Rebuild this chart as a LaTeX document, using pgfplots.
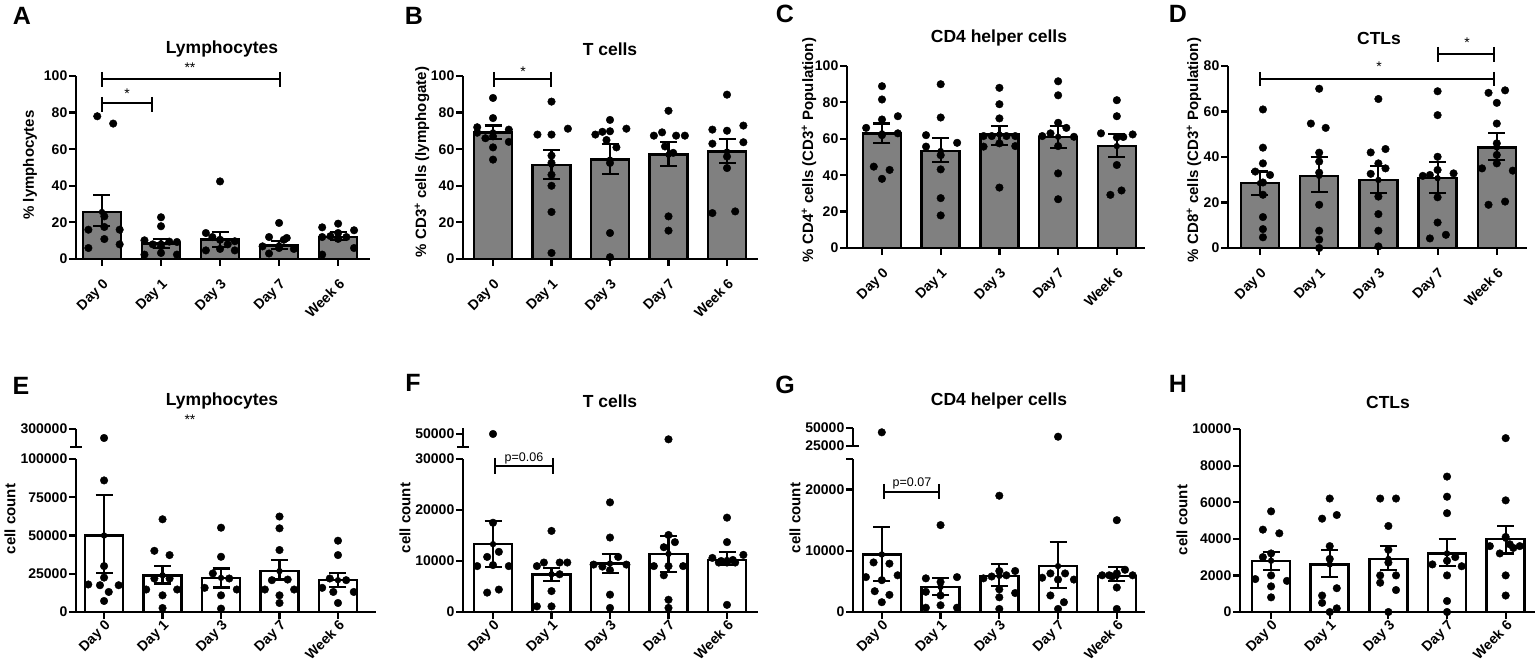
\documentclass[border=0pt]{standalone}
\usepackage{fontspec}
\setmainfont{Liberation Sans}
\usepackage{pgfplots}
\pgfplotsset{compat=1.18}
\newcommand\fs[1]{\fontsize{#1}{#1}\selectfont}
\definecolor{bargray}{RGB}{128,128,128}
\pgfplotsset{
 gp/.style={
  scale only axis, clip=false,
  axis x line*=bottom, axis y line*=left,
  axis line style={line width=2.2pt, -},
  tick style={line width=2.2pt, black},
  major tick length=7pt, tick align=outside,
  scaled y ticks=false,
  xtick={0,1,2,3,4},
  xticklabels={Day 0,Day 1,Day 3,Day 7,Week 6},
  xticklabel style={rotate=45, anchor=north east, font=\fs{14}\bfseries, inner sep=1pt},
  xticklabel shift=10pt,
  yticklabel style={font=\fs{14}\bfseries, inner sep=1.5pt},
  anchor=south west,
 },
 row2/.style={xticklabel shift=0pt, xticklabel style={inner sep=0pt}},
 upper/.style={
  scale only axis, clip=false,
  axis x line=none, axis y line*=left,
  axis line style={line width=2.2pt, -},
  tick style={line width=2.2pt, black},
  major tick length=7pt, tick align=outside,
  scaled y ticks=false,
  xtick=\empty,
  yticklabel style={font=\fs{14}\bfseries, inner sep=1.5pt},
  anchor=south west,
 },
 bars/.style={ybar, bar width=38pt, draw=black, line width=2.5pt, fill=#1},
 dots/.style={only marks, mark=*, mark size=3.8pt, black, mark options={fill=black}},
 errs/.style={black, line width=2.2pt, only marks, mark=none,
   error bars/.cd, y dir=both, y explicit, error mark=|,
   error bar style={line width=2.2pt, black},
   error mark options={line width=2.2pt, black, mark size=8.5pt}},
}
\begin{document}
\begin{tikzpicture}
\useasboundingbox (0pt,0pt) rectangle (1535pt,662pt);

% ---------------- A ----------------
\begin{axis}[gp, at={(76pt,403pt)}, width=294pt, height=183pt,
  xmin=-0.44, xmax=4.54, ymin=0, ymax=100,
  ytick={0,20,40,60,80,100}, yticklabels={0,20,40,60,80,100}]
\addplot[bars=bargray] coordinates {(0,25.7) (1,8.6) (2,10.7) (3,7.5) (4,12)};
\addplot[dots] coordinates {(-0.08,78) (0.19,74) (0.04,23.3) (-0.23,16) (0.3,16) (0.04,17.5) (0.04,10.9) (-0.23,6) (0.3,8)
 (1,22.8) (1,17.9) (0.72,10.2) (1.14,9.5) (1.27,9.3) (0.86,8) (0.72,2.4) (1,3.3) (1.27,2.4) (1,7)
 (2,42.4) (1.76,14.2) (2,10.5) (2.25,9.7) (1.76,4.7) (2.25,4.7) (2,5.5) (1.87,12) (2.13,8)
 (3,19.7) (2.83,12) (3.08,10.5) (2.72,6.9) (3,6) (3.25,5.5) (2.83,3) (3.13,11.5)
 (3.73,17.3) (4,19.3) (4.27,15.7) (4,14.2) (3.73,12) (4.14,12) (4.27,6) (3.73,2.4) (3.87,12.5) (4,11)};
\addplot[errs] table[x=x, y=y, y error plus=ep, y error minus=em] {
x y ep em
0 25.7 9.1 7.8
1 8.6 2.5 2.6
2 10.7 4.1 4.1
3 7.5 2.2 2.0
4 12 2.6 1.8
};
\end{axis}

% ---------------- B ----------------
\begin{axis}[gp, at={(463pt,403pt)}, width=295pt, height=183pt,
  xmin=-0.513, xmax=4.53, ymin=0, ymax=100,
  ytick={0,20,40,60,80,100}, yticklabels={0,20,40,60,80,100}]
\addplot[bars=bargray] coordinates {(0,69.2) (1,51.5) (2,54.3) (3,57) (4,58.7)};
\addplot[dots] coordinates {(0,88) (0,77) (-0.27,72) (0.27,70.7) (0,67) (-0.27,69) (0.27,64) (0,61) (0,54.3) (-0.13,66)
 (1,86) (0.76,68) (1,68) (1.28,71.2) (1,56.5) (1,52.5) (1,46) (1,40) (1,25.7) (1,3.3)
 (2,76) (1.75,68) (2,69.8) (2.28,71.2) (1.94,65) (2.11,61) (2,52.5) (2,14.2) (2,1) (1.87,69.5)
 (3,81) (2.75,67.4) (2.89,69.2) (3.13,67.4) (3.28,67.4) (2.94,61.5) (3.08,58) (3,23.3) (3,15.5)
 (4,89.8) (3.75,70.7) (4,70.1) (4.28,72.9) (3.75,63) (4.28,63.8) (4,56) (4,49.7) (3.75,25.1) (4.14,26)};
\addplot[errs] table[x=x, y=y, y error plus=ep, y error minus=em] {
x y ep em
0 69.2 3.8 3.6
1 51.5 7.9 7.6
2 54.3 8.7 7.7
3 57 6.9 6
4 58.7 6.9 6.2
};
\end{axis}

% ---------------- C ----------------
\begin{axis}[gp, at={(847pt,414pt)}, width=298pt, height=182pt,
  xmin=-0.596, xmax=4.48, ymin=0, ymax=100,
  ytick={0,20,40,60,80,100}, yticklabels={0,20,40,60,80,100}]
\addplot[bars=bargray] coordinates {(0,63) (1,53.3) (2,62.4) (3,61.1) (4,56)};
\addplot[dots] coordinates {(0,88.9) (0,81.6) (0,70.6) (-0.27,66) (0.27,72.4) (0,62) (0.27,63) (-0.14,44.7) (0.13,42.9) (0,38)
 (1,90) (1,71.7) (0.75,62) (0.75,55.7) (1.28,57.8) (1,51) (1,43.2) (1,27.4) (1,17.9)
 (2,88) (2,79) (2,71.2) (1.73,61.5) (1.87,61.5) (2.12,61.5) (2.27,61.5) (2,57.5) (1.73,55.7) (2.27,56) (2,33.2)
 (3,91.6) (3,83.9) (3,68.8) (2.87,63) (3.14,66) (3.27,61.1) (2.73,61.5) (3,56) (3,41) (3,26.8)
 (4,81.2) (4,72.4) (3.73,63) (4.27,62.4) (4,60.8) (4.11,61) (4,45.6) (4.08,31.6) (3.89,29.2)};
\addplot[errs] table[x=x, y=y, y error plus=ep, y error minus=em] {
x y ep em
0 63 5.4 5.2
1 53.3 7.3 6.2
2 62.4 4.8 5.8
3 61.1 5.9 6
4 56 6.6 5.8
};
\end{axis}

% ---------------- D ----------------
\begin{axis}[gp, at={(1228pt,414pt)}, width=299pt, height=182pt,
  xmin=-0.54, xmax=4.51, ymin=0, ymax=80,
  ytick={0,20,40,60,80}, yticklabels={0,20,40,60,80}]
\addplot[bars=bargray] coordinates {(0,28.5) (1,31.7) (2,29.9) (3,30.7) (4,44.2)};
\addplot[dots] coordinates {(0.05,60.9) (0.05,44.1) (0.05,37.2) (-0.08,33.6) (0.17,32.1) (0.05,28.8) (0.05,23.4) (0.05,13.6) (0.05,8.3) (0.05,4.7)
 (1,70) (0.86,54.7) (1.11,52.8) (1,41.9) (1,38) (1,33.1) (1,19) (1,7.6) (1,3.7) (1,0)
 (2,65.5) (1.87,42) (2.12,43.5) (2,37.2) (1.87,32.6) (2.12,35) (2,22.6) (2,14.9) (2,7.6) (2,0.7)
 (3,68.9) (3,58.4) (3,40.1) (3,34.3) (2.87,32.1) (2.75,31.7) (3.27,32.8) (3,22.3) (3,11.2) (3.14,5.8) (2.87,4.2)
 (3.86,68.2) (4.14,69.3) (4,63.8) (4,54.7) (4,46) (3.75,35) (4.27,34) (4,40.9) (4,37.2) (3.86,19) (4.14,20.4)};
\addplot[errs] table[x=x, y=y, y error plus=ep, y error minus=em] {
x y ep em
0 28.5 5.1 5.1
1 31.7 8.2 7.2
2 29.9 6.3 5.8
3 30.7 7 6.6
4 44.2 6.2 5.5
};
\end{axis}

% ---------------- E ----------------
\begin{axis}[gp, row2, at={(76pt,50pt)}, width=300pt, height=153pt,
  xmin=-0.48, xmax=4.65, ymin=0, ymax=100000,
  ytick={0,25000,50000,75000,100000}, yticklabels={0,25000,50000,75000,100000}]
\addplot[bars=white] coordinates {(0,50000) (1,24000) (2,22300) (3,26700) (4,20800)};
\addplot[dots] coordinates {(0,86000) (0,30000) (0,22500) (-0.27,18000) (-0.07,17500) (0.25,17500) (0.08,13100) (0,7200)
 (1,60600) (0.86,40000) (1.12,37200) (0.86,21900) (1.12,21900) (0.72,14700) (1.25,14700) (1,10900) (1,2600)
 (2,55100) (2,36100) (1.86,25200) (2.14,21900) (1.72,15800) (2,10900) (2.27,14700) (2,2200)
 (3,62400) (3,54700) (3,40500) (2.87,20800) (3.14,21200) (2.75,14700) (3.25,14700) (3,10900) (3,5900)
 (4,46600) (4,37200) (3.86,21900) (4.14,20800) (3.73,15800) (4.27,13100) (3.92,13100) (4,5900)};
\addplot[errs] table[x=x, y=y, y error plus=ep, y error minus=em] {
x y ep em
0 50000 26600 24400
1 24000 6200 5400
2 22300 6100 6300
3 26700 7200 5500
4 20800 4800 4400
};
\end{axis}
\begin{axis}[upper, at={(76pt,215pt)}, width=300pt, height=18pt,
  xmin=-0.48, xmax=4.65, ymin=200000, ymax=300000,
  ytick={300000}, yticklabels={300000}]
\addplot[dots] coordinates {(0,250000)};
\end{axis}

% ---------------- F ----------------
\begin{axis}[gp, row2, at={(463pt,50pt)}, width=295pt, height=153pt,
  xmin=-0.513, xmax=4.53, ymin=0, ymax=30000,
  ytick={0,10000,20000,30000}, yticklabels={0,10000,20000,30000}]
\addplot[bars=white] coordinates {(0,13300) (1,7400) (2,9500) (3,11400) (4,10200)};
\addplot[dots] coordinates {(0,17500) (0.1,11800) (-0.1,10800) (-0.27,9000) (0,9200) (0.27,9000) (0.1,4400) (-0.1,3800)
 (1,15900) (0.75,9000) (0.87,9700) (1.14,9700) (1.27,9700) (1.14,7400) (1,4100) (0.75,1100) (1,1100)
 (2,21500) (2,14600) (1.72,9300) (1.87,8900) (2.14,10800) (2.28,9300) (2,8200) (2,3400) (2,800)
 (3,15100) (3.11,13700) (2.92,12700) (2.75,9000) (3,9000) (3.25,9000) (2.92,7200) (3,2400) (3,800)
 (4,18500) (4,13700) (3.75,10600) (4.28,11200) (4,9700) (3.86,9700) (4.14,9700) (4,1400) (3.9,10000) (4.1,10200)};
\addplot[errs] table[x=x, y=y, y error plus=ep, y error minus=em] {
x y ep em
0 13300 4600 4400
1 7400 1300 1300
2 9500 1900 1800
3 11400 3500 3500
4 10200 1600 1000
};
\end{axis}
\begin{axis}[upper, at={(463pt,215pt)}, width=295pt, height=19pt,
  xmin=-0.513, xmax=4.53, ymin=40000, ymax=54600,
  ytick={50000}, yticklabels={50000}]
\addplot[dots] coordinates {(0,50000) (3,45900)};
\end{axis}

% ---------------- G ----------------
\begin{axis}[gp, row2, at={(853pt,50pt)}, width=292pt, height=153pt,
  xmin=-0.49, xmax=4.48, ymin=0, ymax=25000,
  ytick={0,10000,20000,25000}, yticklabels={0,10000,20000,{}}]
\addplot[bars=white] coordinates {(0,9400) (1,4100) (2,5900) (3,7500) (4,5900)};
\addplot[dots] coordinates {(-0.14,8100) (0.13,7900) (-0.27,5700) (0.27,6000) (-0.12,3400) (0.13,2800) (0,1600) (0,5200)
 (1,14200) (0.75,5500) (1.28,5700) (1,4900) (0.75,3300) (1,2700) (1,1100) (0.75,700) (1.28,700)
 (2,19000) (2,6700) (2.27,6700) (2.12,6000) (1.73,5500) (2,3700) (2,2400) (2.27,3100) (2,500) (1.87,5800)
 (2.87,6300) (3.12,6300) (3,5300) (2.73,5600) (3.27,5300) (2.87,2700) (3.1,1600) (3,500)
 (4,15000) (3.87,6000) (4.14,6900) (4,6300) (3.75,6000) (4.27,6000) (4,4000) (4,500) (3.92,5800)};
\addplot[errs] table[x=x, y=y, y error plus=ep, y error minus=em] {
x y ep em
0 9400 4500 4300
1 4100 1500 1300
2 5900 1900 1700
3 7500 4000 3600
4 5900 1400 800
};
\end{axis}
\begin{axis}[upper, at={(853pt,216pt)}, width=292pt, height=18pt,
  xmin=-0.49, xmax=4.48, ymin=25000, ymax=50000,
  ytick={25000,50000}, yticklabels={25000,50000}]
\addplot[dots] coordinates {(0,44000) (3,37900)};
\end{axis}

% ---------------- H ----------------
\begin{axis}[gp, row2, at={(1240pt,50pt)}, width=295pt, height=183pt,
  xmin=-0.53, xmax=4.5, ymin=0, ymax=10000,
  ytick={0,2000,4000,6000,8000,10000}, yticklabels={0,2000,4000,6000,8000,10000}]
\addplot[bars=white] coordinates {(0,2800) (1,2600) (2,2900) (3,3200) (4,4000)};
\addplot[dots] coordinates {(0,5500) (-0.14,4500) (0.14,4300) (0,3200) (-0.14,3000) (-0.27,1800) (0.27,1700) (0,2000) (0,1400) (0,800)
 (1,6200) (0.87,5100) (1.12,5300) (1,3600) (1,2900) (0.87,900) (1.12,1300) (0.87,500) (1.12,200) (1,0)
 (1.86,6200) (2.13,6200) (2,4700) (2,3400) (2,2700) (1.86,2000) (2.13,2000) (1.86,1600) (2.13,1200) (2,0)
 (3,7400) (3,6300) (3,5400) (3,2800) (2.75,2600) (3.25,2500) (3.14,3000) (3,2000) (3,600) (3,0)
 (4,9500) (4,6100) (4,4100) (3.73,3600) (4.24,3600) (3.9,3200) (4.13,3500) (4.07,3700) (4,2000) (4,900)};
\addplot[errs] table[x=x, y=y, y error plus=ep, y error minus=em] {
x y ep em
0 2800 500 500
1 2600 800 700
2 2900 700 600
3 3200 800 700
4 4000 700 800
};
\end{axis}

% ---------------- annotations ----------------
\begin{scope}[line width=2.2pt]
% A
\draw (102pt,583pt) -- (280pt,583pt);
\draw (102pt,590pt) -- (102pt,575pt); \draw (280pt,590pt) -- (280pt,575pt);
\draw (102pt,559pt) -- (152pt,559pt);
\draw (102pt,565pt) -- (102pt,550pt); \draw (152pt,565pt) -- (152pt,550pt);
% B
\draw (494pt,583pt) -- (551pt,583pt);
\draw (494pt,590pt) -- (494pt,575pt); \draw (551pt,590pt) -- (551pt,575pt);
% D
\draw (1260pt,583pt) -- (1494pt,583pt);
\draw (1260pt,590pt) -- (1260pt,576pt); \draw (1494pt,590pt) -- (1494pt,576pt);
\draw (1438pt,608pt) -- (1494pt,608pt);
\draw (1438pt,615pt) -- (1438pt,600pt); \draw (1494pt,615pt) -- (1494pt,600pt);
% F
\draw (495pt,196pt) -- (553pt,196pt);
\draw (495pt,204pt) -- (495pt,188pt); \draw (553pt,204pt) -- (553pt,188pt);
% G
\draw (884pt,170pt) -- (939pt,170pt);
\draw (884pt,178pt) -- (884pt,163pt); \draw (939pt,178pt) -- (939pt,163pt);
% bracket bases
\draw (70pt,215pt) -- (82pt,215pt);
\draw (457pt,215pt) -- (469pt,215pt);
\draw (847pt,216pt) -- (859pt,216pt);
\end{scope}

\begin{scope}[every node/.style={inner sep=0pt}]
% stars
\node[font=\fs{14}] at (190pt,594pt) {**};
\node[font=\fs{14}] at (127pt,568pt) {*};
\node[font=\fs{14}] at (523pt,590pt) {*};
\node[font=\fs{14}] at (1379pt,595pt) {*};
\node[font=\fs{14}] at (1467pt,619pt) {*};
\node[font=\fs{14}] at (190pt,242pt) {**};
\node[font=\fs{12.5}] at (524pt,204pt) {p=0.06};
\node[font=\fs{12.5}] at (912pt,179pt) {p=0.07};
% panel letters
\node[font=\fs{25}\bfseries] at (22pt,646pt) {A};
\node[font=\fs{25}\bfseries] at (414pt,646pt) {B};
\node[font=\fs{25}\bfseries] at (785pt,648pt) {C};
\node[font=\fs{25}\bfseries] at (1178pt,648pt) {D};
\node[font=\fs{25}\bfseries] at (21pt,276pt) {E};
\node[font=\fs{25}\bfseries] at (413pt,279pt) {F};
\node[font=\fs{25}\bfseries] at (785pt,277pt) {G};
\node[font=\fs{25}\bfseries] at (1178pt,278pt) {H};
% titles
\node[font=\fs{17.5}\bfseries] at (222pt,613pt) {Lymphocytes};
\node[font=\fs{17.5}\bfseries] at (610pt,613pt) {T cells};
\node[font=\fs{17.5}\bfseries] at (999pt,624pt) {CD4 helper cells};
\node[font=\fs{17.5}\bfseries] at (1379pt,624pt) {CTLs};
\node[font=\fs{17.5}\bfseries] at (222pt,261pt) {Lymphocytes};
\node[font=\fs{17.5}\bfseries] at (610pt,261pt) {T cells};
\node[font=\fs{17.5}\bfseries] at (999pt,261pt) {CD4 helper cells};
\node[font=\fs{17.5}\bfseries] at (1388pt,260pt) {CTLs};
% y labels
\node[font=\fs{15}\bfseries, rotate=90] at (30pt,497pt) {\% lymphocytes};
\node[font=\fs{15}\bfseries, rotate=90] at (422pt,500pt) {\% CD3\textsuperscript{+} cells (lymphogate)};
\node[font=\fs{15}\bfseries, rotate=90] at (809pt,512pt) {\% CD4\textsuperscript{+} cells (CD3\textsuperscript{+} Population)};
\node[font=\fs{15}\bfseries, rotate=90] at (1194pt,512pt) {\% CD8\textsuperscript{+} cells (CD3\textsuperscript{+} Population)};
\node[font=\fs{15}\bfseries, rotate=90] at (10pt,143pt) {cell count};
\node[font=\fs{15}\bfseries, rotate=90] at (405pt,144pt) {cell count};
\node[font=\fs{15}\bfseries, rotate=90] at (795pt,144pt) {cell count};
\node[font=\fs{15}\bfseries, rotate=90] at (1182pt,142pt) {cell count};
\end{scope}
\end{tikzpicture}
\end{document}
